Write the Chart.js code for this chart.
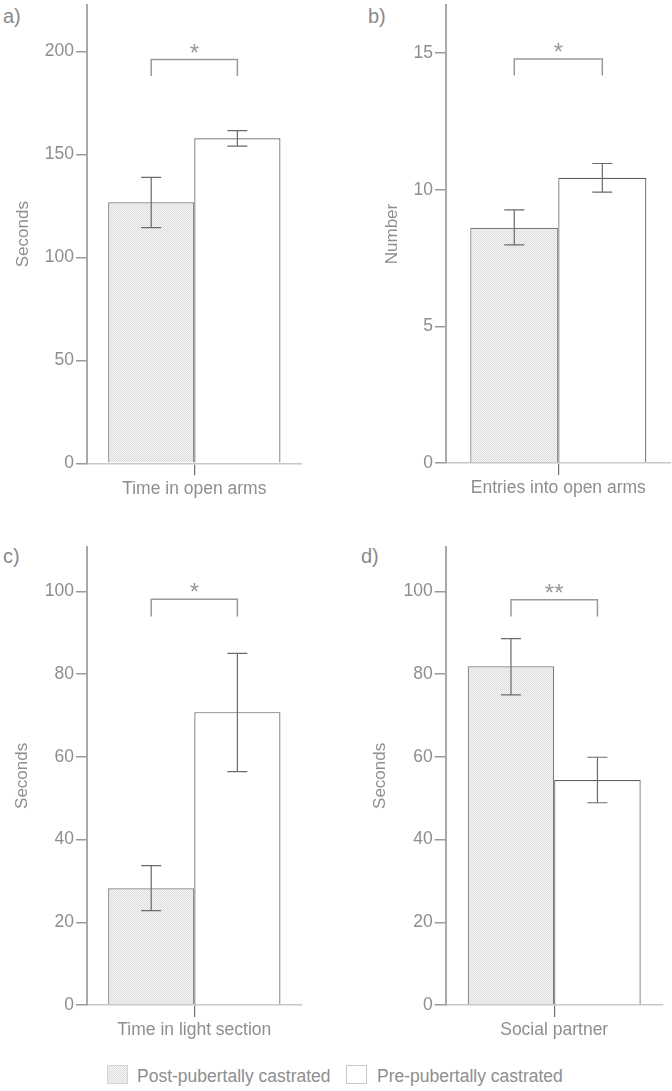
<!DOCTYPE html>
<html><head><meta charset="utf-8">
<script src="https://cdn.jsdelivr.net/npm/chart.js@4.4.0/dist/chart.umd.min.js"></script>
<style>
html,body{margin:0;padding:0;background:#fff;}
body{width:672px;height:1091px;position:relative;overflow:hidden;font-family:"Liberation Sans",Arial,sans-serif;}
canvas{position:absolute;}
.letter{position:absolute;font-size:20px;line-height:20px;color:#8a8a8a;}
.sw{position:absolute;width:21px;height:19px;box-sizing:border-box;}
.lt{position:absolute;font-size:17.5px;line-height:20px;color:#8e8e8e;white-space:nowrap;}
</style></head><body>
<div class="letter" style="left:3px;top:6px">a)</div>
<div class="letter" style="left:368px;top:6px">b)</div>
<div class="letter" style="left:3px;top:546px">c)</div>
<div class="letter" style="left:361px;top:546px">d)</div>
<div class="sw" id="sw1" style="left:107px;top:1065px;border:1px solid #d4d4d4;"></div>
<div class="lt" id="lt1" style="left:137px;top:1066px"></div>
<div class="sw" style="left:346px;top:1065px;border:1px solid #c8c8c8;background:#fff;"></div>
<div class="lt" id="lt2" style="left:377px;top:1066px"></div>
<script>
// ---- data ----
const groups = ['Post-pubertally castrated', 'Pre-pubertally castrated'];
const categories = ['Time in open arms', 'Entries into open arms', 'Time in light section', 'Social partner'];
const yTitles = ['Seconds', 'Number', 'Seconds', 'Seconds'];
const postMeans = [126.7, 8.61, 28.2, 81.9];
const postLow   = [114.4, 7.98, 22.8, 75.0];
const postHigh  = [138.8, 9.26, 33.7, 88.6];
const preMeans  = [157.8, 10.44, 70.8, 54.4];
const preLow    = [154.0, 9.91, 56.4, 48.9];
const preHigh   = [161.5, 10.96, 85.0, 59.9];
const yTicks = [[0, 50, 100, 150, 200], [0, 5, 10, 15], [0, 20, 40, 60, 80, 100], [0, 20, 40, 60, 80, 100]];
const yMax = [222.5, 16.76, 110.8, 110.8];
const sigLabels = ['*', '*', '*', '**'];
const sigBracket = [196, 14.78, 98.1, 98.0];
const sigLegBottom = [188, 14.18, 93.9, 93.9];

// ---- layout (positions only) ----
const layout = [
  {x:0,   y:0,   w:336, h:520, left:87,    top:5,    right:301.6, bottom:463.3, frac:0.803, tp:12.8},
  {x:336, y:0,   w:336, h:520, left:110,   top:5,    right:334.6, bottom:463,   frac:0.784, tp:45.8},
  {x:0,   y:520, w:336, h:530, left:87,    top:26.7, right:301.6, bottom:485,   frac:0.803, tp:11.8},
  {x:336, y:520, w:336, h:530, left:109.7, top:26.7, right:326.7, bottom:485,   frac:0.797, tp:33.8}
];

const FONT = "'Liberation Sans', Arial, sans-serif";
const TXT = '#8e8e8e';

document.getElementById('lt1').textContent = groups[0];
document.getElementById('lt2').textContent = groups[1];

function makePattern() {
  const p = document.createElement('canvas');
  p.width = 2; p.height = 2;
  const c = p.getContext('2d');
  c.fillStyle = '#f4f4f4'; c.fillRect(0, 0, 2, 2);
  c.fillStyle = '#dedede'; c.fillRect(0, 0, 1, 1); c.fillRect(1, 1, 1, 1);
  return p;
}
const patCanvas = makePattern();
document.getElementById('sw1').style.background = 'url(' + patCanvas.toDataURL() + ')';

const errPlugin = {
  id: 'err',
  afterDatasetsDraw(chart) {
    const ctx = chart.ctx, ys = chart.scales.y;
    ctx.save();
    ctx.strokeStyle = '#6a6a6a';
    ctx.lineWidth = 1.2;
    chart.data.datasets.forEach((ds, di) => {
      const meta = chart.getDatasetMeta(di);
      meta.data.forEach((bar, j) => {
        const x = bar.x;
        const yl = ys.getPixelForValue(ds.errLow[j]);
        const yh = ys.getPixelForValue(ds.errHigh[j]);
        ctx.beginPath();
        ctx.moveTo(x, yl); ctx.lineTo(x, yh);
        ctx.moveTo(x - 10, yl); ctx.lineTo(x + 10, yl);
        ctx.moveTo(x - 10, yh); ctx.lineTo(x + 10, yh);
        ctx.stroke();
      });
    });
    ctx.restore();
  }
};

const sigPlugin = {
  id: 'sig',
  afterDatasetsDraw(chart, args, opts) {
    const ctx = chart.ctx, ys = chart.scales.y;
    const x1 = chart.getDatasetMeta(0).data[0].x;
    const x2 = chart.getDatasetMeta(1).data[0].x;
    const yb = ys.getPixelForValue(opts.bracket);
    const yl = ys.getPixelForValue(opts.leg);
    ctx.save();
    ctx.strokeStyle = '#9a9a9a';
    ctx.lineWidth = 1.5;
    ctx.beginPath();
    ctx.moveTo(x1, yl); ctx.lineTo(x1, yb); ctx.lineTo(x2, yb); ctx.lineTo(x2, yl);
    ctx.stroke();
    ctx.fillStyle = '#999';
    ctx.font = '24px ' + FONT;
    ctx.textAlign = 'center';
    ctx.textBaseline = 'alphabetic';
    ctx.fillText(opts.label, (x1 + x2) / 2, yb + 1);
    ctx.restore();
  }
};

function makePanel(i) {
  const L = layout[i];
  const cv = document.createElement('canvas');
  cv.width = L.w; cv.height = L.h;
  cv.style.left = L.x + 'px'; cv.style.top = L.y + 'px';
  cv.style.width = L.w + 'px'; cv.style.height = L.h + 'px';
  document.body.appendChild(cv);
  const pattern = cv.getContext('2d').createPattern(patCanvas, 'repeat');
  new Chart(cv, {
    type: 'bar',
    data: {
      labels: [categories[i]],
      datasets: [
        {label: groups[0], data: [postMeans[i]], errLow: [postLow[i]], errHigh: [postHigh[i]],
         backgroundColor: pattern, borderColor: '#7a7a7a', borderWidth: 1.2},
        {label: groups[1], data: [preMeans[i]], errLow: [preLow[i]], errHigh: [preHigh[i]],
         backgroundColor: '#ffffff', borderColor: '#5e5e5e', borderWidth: 1.2}
      ]
    },
    options: {
      responsive: false,
      animation: false,
      devicePixelRatio: 1,
      layout: {padding: {left: 0, top: L.top, right: L.w - L.right, bottom: 0}},
      datasets: {bar: {barPercentage: 1, categoryPercentage: L.frac}},
      plugins: {
        legend: {display: false},
        tooltip: {enabled: false},
        sig: {bracket: sigBracket[i], leg: sigLegBottom[i], label: sigLabels[i]}
      },
      scales: {
        x: {
          type: 'category', offset: true,
          grid: {offset: false, drawOnChartArea: false, drawTicks: true, tickLength: 12, color: '#6e6e6e', lineWidth: 1.2},
          border: {display: true, color: '#c8c8c8', width: 1.5},
          ticks: {font: {size: 17.5, family: FONT}, color: TXT, padding: 3, maxRotation: 0},
          afterFit(s) { s.height = L.h - L.bottom; s.paddingLeft = 0; s.paddingRight = 0; }
        },
        y: {
          min: 0, max: yMax[i],
          afterBuildTicks(s) { s.ticks = yTicks[i].map(v => ({value: v})); },
          grid: {drawOnChartArea: false, drawTicks: true, tickLength: 11, color: '#9a9a9a', lineWidth: 1.5},
          border: {display: true, color: '#a8a8a8', width: 2},
          ticks: {font: {size: 17.5, family: FONT}, color: TXT, padding: 2},
          title: {display: true, text: yTitles[i], font: {size: 17, family: FONT}, color: TXT, padding: {top: L.tp, bottom: 0}},
          afterFit(s) { s.width = L.left; s.paddingTop = 0; s.paddingBottom = 0; }
        }
      }
    },
    plugins: [errPlugin, sigPlugin]
  });
}
for (let i = 0; i < 4; i++) makePanel(i);
</script>
</body></html>
